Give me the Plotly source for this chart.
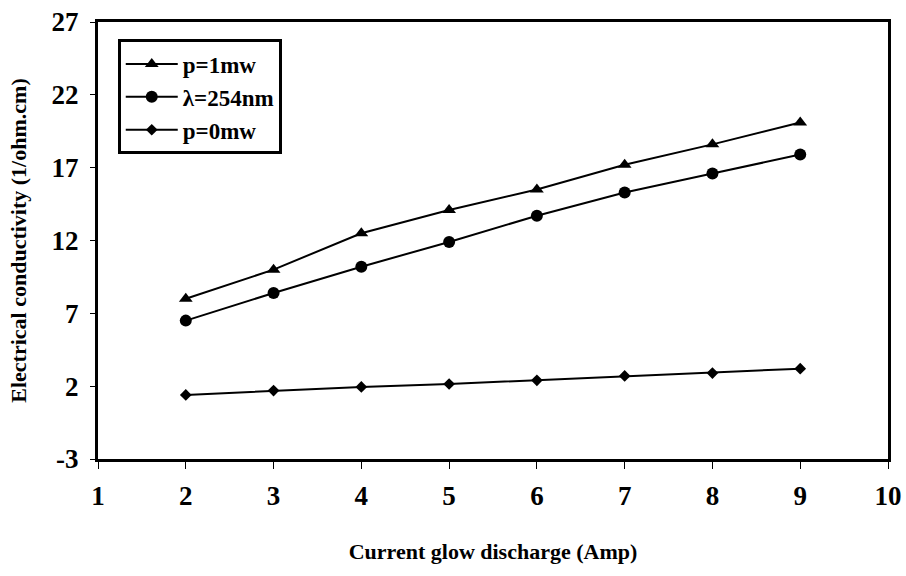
import plotly.graph_objects as go

x = [2, 3, 4, 5, 6, 7, 8, 9]
p1mw = [8.0, 10.0, 12.5, 14.1, 15.5, 17.2, 18.6, 20.1]
lam254 = [6.5, 8.4, 10.2, 11.9, 13.7, 15.3, 16.6, 17.9]
p0mw = [1.4, 1.7, 1.95, 2.15, 2.4, 2.7, 2.9, 3.2]

x_ticks = [1, 2, 3, 4, 5, 6, 7, 8, 9, 10]
y_ticks = [-3, 2, 7, 12, 17, 22, 27]

FONT = "Liberation Serif, Times New Roman, serif"

fig = go.Figure()
fig.add_trace(go.Scatter(x=x, y=p1mw, mode="lines+markers", name="p=1mw",
                         line=dict(color="black", width=2),
                         marker=dict(symbol="triangle-up", size=12, color="black")))
fig.add_trace(go.Scatter(x=x, y=lam254, mode="lines+markers", name="λ=254nm",
                         line=dict(color="black", width=2),
                         marker=dict(symbol="circle", size=12, color="black")))
fig.add_trace(go.Scatter(x=x, y=p0mw, mode="lines+markers", name="p=0mw",
                         line=dict(color="black", width=2),
                         marker=dict(symbol="diamond", size=9, color="black")))

fig.update_layout(
    width=906, height=576,
    paper_bgcolor="white", plot_bgcolor="white",
    margin=dict(l=98, r=18, t=22, b=117),
    font=dict(family=FONT, color="black"),
    showlegend=True,
    legend=dict(x=0.025, y=0.96, xanchor="left", yanchor="top",
                bgcolor="white", bordercolor="black", borderwidth=3,
                font=dict(family=FONT, size=23, color="black", weight="bold"),
                tracegroupgap=0, itemwidth=52),
)
fig.update_xaxes(range=[1, 10], tickvals=x_ticks, ticktext=[str(v) for v in x_ticks],
                 showgrid=False, zeroline=False, showline=True, linecolor="black", linewidth=3,
                 mirror=True, ticks="outside", ticklen=7, tickcolor="black", automargin=False,
                 tickfont=dict(family=FONT, size=27, color="black", weight="bold"),
                 ticklabelstandoff=4,
                 title=dict(text="Current glow discharge (Amp)",
                            font=dict(family=FONT, size=22, color="black", weight="bold"),
                            standoff=34))
fig.update_yaxes(range=[-3, 27], tickvals=y_ticks, ticktext=[str(v) for v in y_ticks],
                 showgrid=False, zeroline=False, showline=True, linecolor="black", linewidth=3,
                 mirror=True, ticks="outside", ticklen=5, tickcolor="black", automargin=False,
                 tickfont=dict(family=FONT, size=27, color="black", weight="bold"),
                 ticklabelstandoff=6,
                 title=dict(text="Electrical conductivity (1/ohm.cm)",
                            font=dict(family=FONT, size=22, color="black", weight="bold"),
                            standoff=19))

fig.write_html("out.html", config={"displayModeBar": False},
               post_script="document.body.style.margin='0px';")
